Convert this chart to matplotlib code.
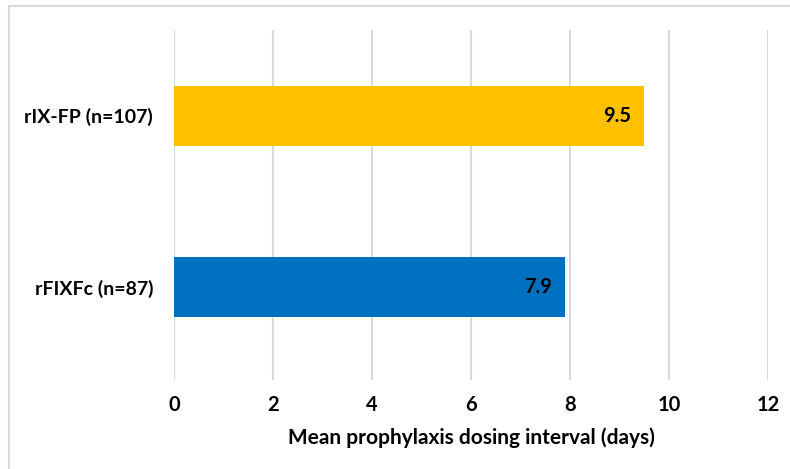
import matplotlib.pyplot as plt
from matplotlib.patches import Rectangle

labels = ['rFIXFc (n=87)', 'rIX-FP (n=107)']
values = [7.9, 9.5]
colors = ['#0070C0', '#FFC000']
xticks = [0, 2, 4, 6, 8, 10, 12]

plt.rcParams['font.family'] = ['Lato', 'DejaVu Sans']

W, H = 790, 469
fig = plt.figure(figsize=(W / 100, H / 100), dpi=100)
ax = fig.add_axes([174 / W, 1 - 380 / H, (768 - 174) / W, 350 / H])

# outer chart border (cropped)
fig.patches.append(Rectangle((9 / W, -0.1), 1.2, 1 - 6 / H + 0.1, transform=fig.transFigure,
                             fill=False, edgecolor='#D9D9D9', linewidth=1.5))

ypos = range(len(labels))
ax.barh(ypos, values, height=0.35, color=colors, zorder=3)
for y, v in zip(ypos, values):
    ax.text(v - 0.27, y, '%.1f' % v, ha='right', va='center',
            fontsize=14.5, fontweight='bold', zorder=4)

ax.set_xlim(0, 12)
ax.set_ylim(-0.54, 1.5)
ax.set_xticks(xticks)
ax.set_xticklabels([str(t) for t in xticks], fontsize=14.5, fontweight='bold')
ax.set_yticks(list(ypos))
ax.set_yticklabels(labels, fontsize=14, fontweight='bold')
ax.tick_params(axis='x', length=0, pad=11)
ax.tick_params(axis='y', length=0, pad=15)
ax.grid(axis='x', color='#D9D9D9', linewidth=1.5, zorder=0)
for s in ax.spines.values():
    s.set_visible(False)
ax.set_xlabel('Mean prophylaxis dosing interval (days)', fontsize=15, fontweight='bold', labelpad=9)

plt.savefig('out.png', dpi=100)
